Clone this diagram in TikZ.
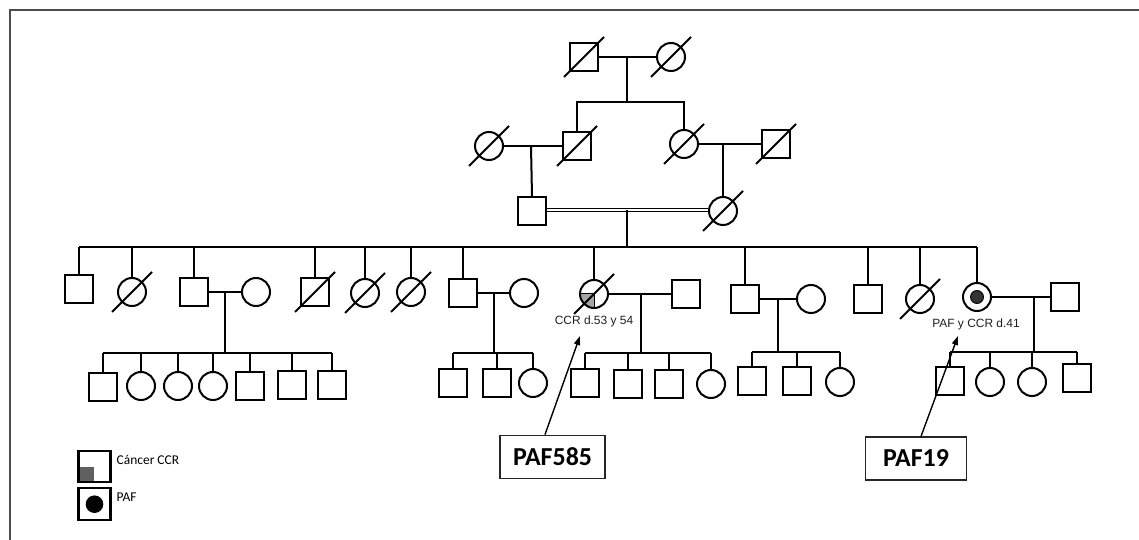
\documentclass[tikz,border=0pt]{standalone}
\usepackage{fontspec}
\setmainfont{Liberation Sans}
\newfontfamily\calfont{Carlito}
\usetikzlibrary{arrows.meta}
\definecolor{qgray}{HTML}{A6A6A6}
\definecolor{leggray}{HTML}{606060}
\begin{document}
\begin{tikzpicture}[x=1bp,y=-1bp]
\tikzset{
  ped/.style={line width=2bp},
  male/.style={draw, rectangle, minimum size=27.5bp, inner sep=0pt, line width=2bp},
  female/.style={draw, circle, minimum size=28bp, inner sep=0pt, line width=2bp},
  ccr/.style={path picture={
      \fill[qgray] (path picture bounding box.center) rectangle (path picture bounding box.south west);
      \draw[line width=1bp] (path picture bounding box.west) -- (path picture bounding box.center) -- (path picture bounding box.south);}},
  paf/.style={path picture={
      \filldraw[fill=black!80, draw=black, line width=0.9bp] (path picture bounding box.center) circle[radius=6.5bp];}},
  lbl/.style={font=\fontsize{12}{14}\selectfont, text=black!88, inner sep=1pt},
  idbox/.style={draw=black!85, line width=1.2bp, minimum height=43bp, inner sep=2pt,
      font=\calfont\bfseries\fontsize{26}{30}\selectfont},
  arr/.style={line width=1.4bp, -{Triangle[length=9bp,width=6bp]}},
  legbox/.style={draw, rectangle, minimum width=32bp, minimum height=31bp, inner sep=0pt, line width=2.4bp},
  legtxt/.style={font=\calfont\fontsize{13.5}{15}\selectfont, anchor=west, inner sep=0pt},
}
\useasboundingbox (0,0) rectangle (1139,540);
% outer frame (top and left edges)
\draw[line width=1.4bp, black!70] (10,540) -- (10,10) -- (1139,10);

% ---------- generation I ----------
\node[male]   (I1) at (584,57) {};
\node[female] (I2) at (671,57) {};
\draw[ped] (I1.center) ++(-20,20) -- ++(40,-40);
\draw[ped] (I2.center) ++(-20,20) -- ++(40,-40);
\draw[ped] (I1) -- (I2);
\coordinate (m1) at (627,57);
\coordinate (s1) at (627,102);
\draw[ped] (m1) -- (s1);

% ---------- generation II ----------
\node[female] (II1) at (489,146) {};
\node[male]   (II2) at (577,146) {};
\node[female] (II3) at (684,144) {};
\node[male]   (II4) at (776,144) {};
\foreach \n in {II1,II2,II3,II4} \draw[ped] (\n.center) ++(-20,20) -- ++(40,-40);
\draw[ped] (II2.north) |- (s1) -| (II3.north);
\draw[ped] (II1) -- (II2);
\draw[ped] (II3) -- (II4);
\coordinate (m2a) at (531,146);
\coordinate (m2b) at (723,144);

% ---------- generation III ----------
\node[male]   (III1) at (532,211) {};
\node[female] (III2) at (723,211) {};
\draw[ped] (III2.center) ++(-20,20) -- ++(40,-40);
\draw[ped] (m2a) -- (III1.north);
\draw[ped] (m2b) -- (III2.north);
\draw[line width=1.3bp] ([yshift=2.5bp]III1.east) -- ([yshift=2.5bp]III2.west);
\draw[line width=1.3bp] ([yshift=-0.8bp]III1.east) -- ([yshift=-0.8bp]III2.west);
\coordinate (c3) at (627,210);
\coordinate (s4) at (627,247);
\draw[ped] (c3) -- (s4);

% ---------- generation IV ----------
\node[male]   (IV1)  at (79,289) {};
\node[female] (IV2)  at (132,292) {};
\node[male]   (IV3)  at (194,292) {};
\node[female] (IV3s) at (256,292) {};
\node[male]   (IV4)  at (315,292) {};
\node[female] (IV5)  at (365,293) {};
\node[female] (IV6)  at (411,292) {};
\node[male]   (IV7)  at (463,293) {};
\node[female] (IV7s) at (524,293) {};
\node[female, ccr] (IV8) at (594,294) {};
\node[male]   (IV8s) at (686,294) {};
\node[male]   (IV9)  at (745,299) {};
\node[female] (IV9s) at (811,299) {};
\node[male]   (IV10) at (868,299) {};
\node[female] (IV11) at (920,299) {};
\node[female, ccr, paf] (IV12) at (977,297) {};
\node[male]   (IV12s) at (1065,297) {};
\foreach \n in {IV2,IV4,IV5,IV6,IV8,IV11} \draw[ped] (\n.center) ++(-20,20) -- ++(40,-40);
\draw[ped] (IV1.north |- s4) -- (IV12.north |- s4);
\foreach \n in {IV1,IV2,IV3,IV4,IV5,IV6,IV7,IV8,IV9,IV10,IV11,IV12}
  \draw[ped] (\n.north) -- (\n.north |- s4);
\draw[ped] (IV3) -- (IV3s);
\draw[ped] (IV7) -- (IV7s);
\draw[ped] (IV8) -- (IV8s);
\draw[ped] (IV9) -- (IV9s);
\draw[ped] (IV12) -- (IV12s);
\node[lbl] (t8)  at (594,321) {CCR d.53 y 54};
\node[lbl] (t12) at (976,324) {PAF y CCR d.41};

% ---------- generation V ----------
\coordinate (da) at (225,292);   \coordinate (sa) at (225,353);
\coordinate (db) at (494,293);   \coordinate (sb) at (494,353);
\coordinate (dc) at (641,294);   \coordinate (sc) at (641,353);
\coordinate (dd) at (778,299);   \coordinate (sd) at (778,352);
\coordinate (de) at (1034,297);  \coordinate (se) at (1034,352);
\draw[ped] (da) -- (sa);
\draw[ped] (db) -- (sb);
\draw[ped] (dc) -- (sc);
\draw[ped] (dd) -- (sd);
\draw[ped] (de) -- (se);

\node[male]   (Va1) at (103,387) {};
\node[female] (Va2) at (141,386) {};
\node[female] (Va3) at (178,386) {};
\node[female] (Va4) at (213,386) {};
\node[male]   (Va5) at (250,386) {};
\node[male]   (Va6) at (292,385) {};
\node[male]   (Va7) at (332,385) {};
\draw[ped] (Va1.north |- sa) -- (Va7.north |- sa);
\foreach \n in {Va1,Va2,Va3,Va4,Va5,Va6,Va7} \draw[ped] (\n.north) -- (\n.north |- sa);

\node[male]   (Vb1) at (453,383) {};
\node[male]   (Vb2) at (497,383) {};
\node[female] (Vb3) at (533,383) {};
\draw[ped] (Vb1.north |- sb) -- (Vb3.north |- sb);
\foreach \n in {Vb1,Vb2,Vb3} \draw[ped] (\n.north) -- (\n.north |- sb);

\node[male]   (Vc1) at (585,383) {};
\node[male]   (Vc2) at (628,384) {};
\node[male]   (Vc3) at (669,384) {};
\node[female] (Vc4) at (711,384) {};
\draw[ped] (Vc1.north |- sc) -- (Vc4.north |- sc);
\foreach \n in {Vc1,Vc2,Vc3,Vc4} \draw[ped] (\n.north) -- (\n.north |- sc);

\node[male]   (Vd1) at (752,381) {};
\node[male]   (Vd2) at (797,381) {};
\node[female] (Vd3) at (840,382) {};
\draw[ped] (Vd1.north |- sd) -- (Vd3.north |- sd);
\foreach \n in {Vd1,Vd2,Vd3} \draw[ped] (\n.north) -- (\n.north |- sd);

\node[male]   (Ve1) at (950,381) {};
\node[female] (Ve2) at (990,382) {};
\node[female] (Ve3) at (1032,382) {};
\node[male]   (Ve4) at (1077,378) {};
\draw[ped] (Ve1.north |- se) -- (Ve4.north |- se);
\foreach \n in {Ve1,Ve2,Ve3,Ve4} \draw[ped] (\n.north) -- (\n.north |- se);

% ---------- probands ----------
\node[idbox, minimum width=105bp] (p585) at (552.5,456.7) {PAF585};
\node[idbox, minimum width=101bp] (p19)  at (916,458.5) {PAF19};
\coordinate (tipA) at (580,336);
\coordinate (tipB) at (958,336);
\draw[arr] ([xshift=-7.5bp]p585.north) -- (tipA);
\draw[arr] ([xshift=5bp]p19.north) -- (tipB);

% ---------- legend ----------
\node[legbox, path picture={\fill[leggray] (path picture bounding box.south west) rectangle ++(15bp,14.5bp);}] (L1) at (94.5,466.2) {};
\node[legbox, minimum height=32bp, path picture={\fill (path picture bounding box.center) circle[radius=8.8bp];}] (L2) at (94.5,504.2) {};
\node[legtxt] (L1t) at (116.5,460) {Cáncer CCR};
\node[legtxt] (L2t) at (116.5,497) {PAF};
\end{tikzpicture}
\end{document}
